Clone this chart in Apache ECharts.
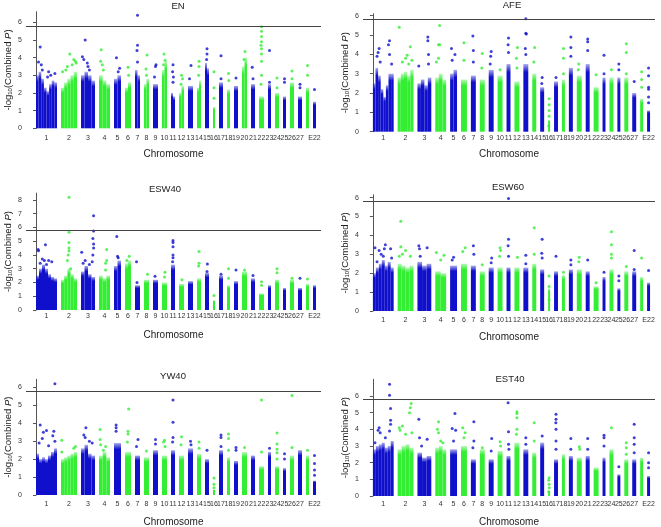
<!DOCTYPE html>
<html><head><meta charset="utf-8">
<script src="https://cdn.jsdelivr.net/npm/echarts@6/dist/echarts.min.js"></script>
<style>html,body{margin:0;padding:0;background:#fff}#c{width:661px;height:527px}</style>
</head><body><div id="c"></div>
<script>
// ---------------- DATA ----------------
const chromNames = ['1','2','3','4','5','6','7','8','9','10','11','12','13','14','15','16','17','18','19','20','21','22','23','24','25','26','27','28','E22'];
const chromLen = [21,16,14,11,7,6,5,5,5,5,4,5,5,4,4,2,4,3,4,5,4,5,3,4,3,4,4,3,3];
const chromGap = 4;
const threshold = 5.8;
const panelTitles = ['EN','AFE','ESW40','ESW60','YW40','EST40'];
const yTicks6 = [0,1,2,3,4,5,6];
const yTicks8 = [0,1,2,3,4,5,6,7,8];
const yMax = [6.6, 6.1, 8.5, 6.15, 6.45, 7.0];

// dense "skyline" heights per chromosome (left to right within the chromosome)
const EN_top = [[3.0,3.2,2.8,2.3,2.1,2.5,2.7,2.6],[2.3,2.6,2.8,3.0,3.2],[3.0,3.2,3.0,2.7],[3.0,2.7,2.5],[2.8,3.0],[2.3,2.6],[3.3,3.0],[2.5,2.8],[2.5],[3.3,3.8],[2.0,1.8],[2.0,2.4],[2.4],[2.3,2.7],[3.7,3.4],[1.2],[2.6],[2.2],[2.4],[3.5,4.0],[2.5],[1.8],[2.5],[2.0],[1.8],[2.6],[1.8],[2.3],[1.5]];
const AFE_top = [[2.5,3.3,2.9,2.2,1.8,2.4,3.0,3.0],[2.8,3.0,3.1,2.9,3.2],[2.5,2.7,2.4,2.8],[2.8,3.0,2.7],[3.0,3.2],[2.7],[2.9],[2.7],[3.2],[2.9],[3.5],[2.6],[3.5],[3.0],[2.3],[0.6],[2.6],[2.7],[3.3],[2.9],[3.5],[2.3],[2.8],[2.8],[2.8],[2.8],[2.0],[1.7],[1.1]];
const ESW40_top = [[2.5,3.0,3.3,3.0,2.6,2.4,2.3],[2.2,2.5,3.0,2.6,2.3],[2.8,3.2,2.6,2.4],[2.5,2.3,2.5],[3.2,3.6],[3.4,3.6],[1.8],[2.2],[2.2],[2.0],[3.3],[1.9],[2.1],[2.3],[2.7],[0.7],[2.5],[1.8],[2.1],[2.8],[2.3],[1.2],[1.8],[2.2],[1.6],[2.2],[1.6],[1.9],[1.8]];
const ESW60_top = [[2.0,2.3,2.5,2.7,2.4,2.6,2.3],[2.5,2.4,2.3,2.4],[2.6,2.4,2.5],[2.1,2.0],[2.4],[2.5],[2.4],[2.1],[2.3],[2.3],[2.3],[2.3],[2.3],[2.5],[2.2],[1.2],[2.1],[1.9],[2.2],[2.2],[2.1],[1.3],[1.8],[2.2],[1.2],[2.1],[2.1],[1.8],[1.5]];
const YW40_top = [[2.3,2.0,2.1,2.0,2.2,2.4,2.6],[2.0,2.1,2.2,2.3,2.4],[2.6,2.8,2.3,2.2],[2.2,2.4,2.1],[2.9],[2.4],[2.2],[2.1],[2.5],[2.2],[2.5],[2.2],[2.6],[2.3],[2.0],[0.3],[2.5],[2.1],[1.9],[2.4],[2.2],[1.6],[2.4],[1.6],[1.5],[2.2],[2.5],[2.2],[0.8]];
const EST40_top = [[2.8,3.0,3.1,3.2,2.9,3.0,3.3],[2.8,3.0,3.1,2.9],[2.6,2.3,2.4],[2.9,3.0,2.8],[2.8],[3.0],[2.2],[2.8],[2.2],[2.7],[2.4],[3.2],[2.8],[2.6],[3.2],[0.3],[2.2],[2.5],[2.4],[2.3],[2.4],[1.7],[2.3],[2.8],[1.3],[2.2],[2.2],[2.3],[1.2]];

// individual SNPs above the dense mass: [chromosome number, relative position within chromosome, -log10 P]
const EN_pts = [[1,.2,4.6],[1,.12,3.75],[1,.25,3.6],[1,.3,3.3],[1,.55,2.9],[1,.7,3.0],[1,.9,3.1],[1,.6,3.2],
[2,.55,4.2],[2,.8,3.9],[2,.9,3.8],[2,.7,3.6],[2,.3,3.3],[2,.4,3.5],[2,.1,3.2],[2,.95,3.7],
[3,.3,5.0],[3,.1,4.05],[3,.2,3.9],[3,.45,3.7],[3,.5,3.5],[3,.6,3.3],
[4,.2,4.45],[4,.15,3.8],[4,.3,3.6],[4,.4,3.3],[5,.35,4.0],[5,.8,3.4],[5,.6,3.2],[6,.5,3.45],[6,.6,3.0],
[7,.5,6.4],[7,.5,4.7],[7,.4,4.4],[7,.5,3.75],[8,.6,4.15],[8,.4,3.35],[8,.5,3.0],[9,.6,3.6],[9,.5,3.5],[9,.3,2.9],
[10,.4,4.2],[10,.6,3.85],[10,.3,3.6],[11,.5,3.6],[11,.4,3.2],[11,.6,2.9],[11,.5,2.6],[12,.5,3.0],[12,.7,2.8],[12,.4,2.5],
[13,.6,3.55],[13,.3,2.8],[14,.5,3.8],[14,.5,3.5],[14,.4,3.0],[15,.5,4.5],[15,.5,4.2],[15,.4,3.9],
[16,.5,3.2],[16,.5,2.3],[16,.5,1.7],[17,.5,4.1],[17,.5,2.8],[18,.5,3.1],[18,.6,2.7],[19,.5,2.85],
[20,.6,4.35],[20,.4,3.9],[21,.3,3.45],[21,.5,2.8],
[22,.5,5.75],[22,.5,5.5],[22,.5,5.2],[22,.5,4.9],[22,.4,4.7],[22,.5,4.5],[22,.5,4.2],[22,.5,3.8],[22,.5,3.0],[22,.4,2.5],
[23,.5,4.4],[23,.5,2.6],[24,.5,2.85],[24,.5,2.3],[25,.5,2.8],[25,.5,2.6],[26,.5,3.25],[26,.5,2.8],
[27,.5,2.5],[27,.5,2.3],[28,.5,3.55],[28,.5,3.0],[29,.5,2.2]];
const AFE_pts = [[1,.3,4.3],[1,.25,4.1],[1,.8,4.7],[1,.75,4.5],[1,.8,4.0],[1,.35,3.6],[1,.2,3.9],[1,.9,3.5],
[2,.1,5.4],[2,.8,4.4],[2,.6,3.95],[2,.5,3.8],[2,.3,3.6],[2,.9,3.7],[2,.7,3.5],
[3,.75,4.9],[3,.75,4.7],[3,.8,4.0],[3,.1,3.4],[3,.8,3.5],
[4,.4,5.5],[4,.3,4.5],[4,.4,4.5],[4,.3,3.8],[4,.1,3.6],[5,.2,4.3],[5,.7,4.0],[5,.3,3.7],
[6,.5,4.6],[6,.5,3.7],[7,.4,4.95],[7,.5,4.2],[7,.5,3.6],[8,.5,4.05],[8,.4,3.3],[9,.5,4.15],[9,.4,3.9],[9,.3,3.5],
[10,.5,3.2],[11,.5,4.85],[11,.4,4.5],[11,.5,4.1],[12,.6,4.35],[12,.4,3.8],[12,.5,3.3],
[13,.5,5.85],[13,.5,5.1],[13,.6,5.05],[13,.4,4.3],[13,.5,4.0],[14,.6,4.35],[14,.4,3.6],[15,.5,2.8],[15,.4,2.5],
[16,.5,1.7],[16,.5,1.4],[16,.5,1.1],[16,.5,0.8],[16,.3,0.3],[17,.5,2.8],[18,.5,4.3],[18,.5,3.8],[18,.5,3.0],
[19,.5,4.9],[19,.5,4.35],[19,.5,3.9],[20,.4,3.5],[20,.3,3.2],[21,.5,4.8],[21,.5,4.65],[21,.5,4.2],
[22,.5,2.95],[23,.5,3.95],[23,.5,3.0],[24,.5,3.2],[25,.5,3.5],[25,.5,3.2],[26,.5,4.55],[26,.5,4.1],[26,.5,3.0],
[27,.5,2.6],[28,.5,3.1],[28,.5,2.7],[28,.5,2.3],[29,.5,3.3],[29,.5,2.9],[29,.5,2.3],[29,.5,2.2],[29,.5,1.8],[29,.5,1.5]];
const ESW40_pts = [[1,.1,4.4],[1,.12,4.3],[1,.45,4.75],[1,.3,3.7],[1,.4,3.6],[1,.6,3.6],[1,.75,3.5],[1,.2,3.4],[1,.5,3.3],
[2,.5,8.2],[2,.5,5.65],[2,.5,4.9],[2,.5,4.5],[2,.5,4.3],[2,.45,4.0],[2,.4,3.6],[2,.6,3.0],
[3,.9,6.85],[3,.9,5.75],[3,.85,5.2],[3,.9,4.8],[3,.9,4.5],[3,.85,4.0],[3,.05,4.2],[3,.3,3.6],[3,.15,3.4],[3,.6,3.3],[3,.8,3.5],
[4,.7,4.4],[4,.7,3.6],[4,.6,3.4],[4,.6,2.9],[5,.4,5.35],[5,.5,3.9],[5,.6,3.8],[6,.7,3.9],[6,.3,3.6],
[7,.3,3.5],[7,.4,2.0],[8,.7,2.6],[9,.4,2.45],[10,.6,2.75],[10,.5,2.4],
[11,.5,5.05],[11,.5,4.9],[11,.5,4.6],[11,.5,4.0],[11,.5,3.8],[11,.4,3.5],[12,.6,2.2],
[14,.5,4.25],[14,.5,3.4],[14,.4,3.2],[15,.6,3.35],[15,.5,2.8],[16,.5,1.05],[17,.5,2.6],[18,.5,3.0],[18,.5,2.3],
[19,.5,2.9],[20,.5,2.9],[21,.5,2.5],[22,.5,2.05],[22,.5,1.8],[24,.5,3.0],[24,.5,2.7],[26,.5,2.3],[27,.5,2.3],[28,.5,2.25]];
const ESW60_pts = [[1,.1,3.35],[1,.3,3.2],[1,.6,3.5],[1,.55,3.3],[1,.85,3.3],[1,.9,2.8],[1,.4,3.0],[1,.5,2.9],[1,.2,2.6],
[2,.2,4.75],[2,.2,3.4],[2,.5,3.2],[2,.3,3.0],[2,.8,2.9],[2,.1,2.9],[3,.1,3.45],[3,.15,3.3],[3,.7,3.35],[3,.2,2.9],
[4,.1,3.1],[4,.8,2.95],[4,.5,2.7],[5,.5,2.85],[5,.3,2.7],[6,.7,3.35],[6,.3,3.15],[7,.5,3.45],[7,.6,3.0],[8,.5,2.45],
[9,.6,2.8],[9,.5,2.55],[10,.5,3.35],[10,.6,3.2],[10,.4,2.9],[11,.5,5.95],[11,.5,3.8],[11,.4,3.45],[11,.5,2.9],
[12,.6,2.85],[13,.5,2.95],[13,.5,2.5],[14,.5,4.4],[14,.5,3.0],[15,.5,3.8],[15,.4,3.05],[15,.5,2.8],
[16,.5,1.85],[16,.5,1.3],[16,.5,0.6],[17,.5,2.9],[18,.5,2.05],[19,.5,2.7],[19,.5,2.45],[20,.5,2.85],[20,.4,2.6],
[21,.5,2.7],[22,.5,1.5],[23,.5,2.05],[24,.5,4.2],[24,.5,3.5],[24,.5,3.0],[24,.5,2.8],[25,.5,1.85],[25,.5,1.6],
[26,.5,2.35],[27,.5,3.2],[27,.5,2.2],[28,.5,2.8],[29,.5,2.15]];
const YW40_pts = [[1,.2,3.9],[1,.35,3.5],[1,.5,3.6],[1,.3,3.15],[1,.6,2.75],[1,.15,2.9],[1,.85,3.55],[1,.8,3.3],[1,.9,6.2],[1,.9,3.0],
[2,.05,3.05],[2,.05,2.4],[2,.9,2.7],[2,.8,2.6],[3,.35,3.75],[3,.2,3.35],[3,.3,3.2],[3,.6,3.0],[3,.8,2.9],
[4,.1,3.65],[4,.1,3.1],[4,.15,2.8],[4,.6,2.7],[4,.4,2.5],[5,.3,3.9],[5,.3,3.75],[5,.3,3.55],
[6,.6,4.8],[6,.5,3.55],[6,.5,3.4],[6,.4,2.95],[7,.6,3.1],[7,.3,2.7],[8,.5,2.45],[9,.5,3.1],[9,.5,2.85],
[10,.5,3.05],[10,.3,2.95],[10,.6,2.7],[11,.5,5.3],[11,.5,4.05],[11,.5,3.2],[11,.4,2.95],[12,.5,3.25],[12,.4,2.8],
[13,.5,3.0],[13,.6,2.8],[14,.5,2.95],[14,.5,2.6],[15,.5,2.5],[16,.5,0.95],[16,.5,0.6],[16,.5,0.4],
[17,.5,3.35],[17,.5,3.2],[17,.5,2.7],[18,.5,3.4],[18,.5,3.15],[18,.5,2.5],[19,.5,2.65],[19,.5,2.5],[20,.5,2.65],
[22,.5,5.3],[22,.5,2.4],[23,.5,2.6],[24,.5,3.45],[24,.5,2.85],[24,.5,2.55],[24,.5,2.35],[24,.5,2.0],
[25,.5,2.3],[25,.5,2.0],[26,.5,5.55],[26,.5,2.65],[28,.5,2.5],[29,.5,2.2],[29,.5,1.75],[29,.5,1.4],[29,.5,1.1]];
const EST40_pts = [[1,.8,6.7],[1,.8,6.05],[1,.85,5.25],[1,.85,4.55],[1,.85,4.3],[1,.8,3.9],[1,.3,4.1],[1,.25,3.95],[1,.35,3.8],[1,.6,3.5],[1,.1,3.2],
[2,.85,5.55],[2,.8,5.3],[2,.75,5.0],[2,.1,4.1],[2,.15,3.95],[2,.3,4.2],[2,.5,3.7],[2,.9,3.8],
[3,.1,4.6],[3,.15,3.5],[3,.7,3.4],[3,.3,3.0],[4,.3,4.45],[4,.2,4.0],[4,.3,3.8],[4,.5,3.3],[4,.7,3.2],
[5,.7,4.95],[5,.3,4.05],[5,.8,3.95],[5,.5,3.3],[6,.3,4.1],[6,.7,3.8],[6,.5,3.5],[7,.6,4.45],[7,.6,3.3],[7,.4,2.9],
[8,.5,2.9],[9,.6,3.45],[9,.5,2.7],[10,.5,3.25],[10,.6,3.0],[11,.4,5.6],[11,.5,3.85],[11,.5,3.1],[11,.6,2.8],
[12,.5,5.05],[12,.5,4.95],[12,.5,4.7],[12,.5,4.0],[12,.4,3.7],[13,.5,3.5],[13,.5,3.1],[14,.5,4.4],[14,.5,3.3],[15,.5,3.6],
[16,.5,1.1],[16,.3,0.95],[16,.5,0.7],[16,.6,0.5],[16,.3,0.25],
[17,.5,4.9],[17,.5,4.6],[17,.45,4.4],[17,.5,4.0],[17,.5,3.3],[17,.5,2.8],[19,.5,3.45],[19,.5,2.8],
[20,.5,2.95],[20,.6,2.8],[21,.5,3.45],[21,.5,2.8],[23,.5,3.65],[23,.5,3.5],[23,.5,3.0],[24,.5,4.1],[25,.5,1.75],
[26,.5,3.2],[26,.5,2.9],[26,.5,2.5],[27,.5,4.3],[27,.5,3.5],[27,.5,3.1],[27,.5,2.6],[29,.5,2.6],[29,.5,2.0],[29,.5,1.7]];

const panelTops = [EN_top, AFE_top, ESW40_top, ESW60_top, YW40_top, EST40_top];
const panelPts = [EN_pts, AFE_pts, ESW40_pts, ESW60_pts, YW40_pts, EST40_pts];

// ---------------- LAYOUT / STYLE ----------------
const BLUE = '#1010cc', GREEN = '#33ee33';
const BLUE_T = 'rgba(16,16,204,0.35)', GREEN_T = 'rgba(51,238,51,0.35)';
const FONT = 'Arial, "Liberation Sans", sans-serif';
const layout = [
  {left:26,  top:11.7,  height:116.6, width:295, title:[178,6],   lblMargin:6, nameGap:21},
  {left:363, top:13.8,  height:117.9, width:292, title:[512,5],   lblMargin:3, nameGap:18},
  {left:26,  top:193.1, height:116.9, width:295, title:[165,189], lblMargin:3, nameGap:20},
  {left:363, top:194.8, height:116.2, width:292, title:[508,187], lblMargin:6, nameGap:21},
  {left:26,  top:379.3, height:115.7, width:295, title:[173,376], lblMargin:6, nameGap:22},
  {left:363, top:379.3, height:116.7, width:292, title:[510,379], lblMargin:5, nameGap:21}
];

// chromosome start positions on the x scale
const chromStart = [];
{ let s = 0; chromLen.forEach((l) => { chromStart.push(s); s += l + chromGap; }); }
const chromCenter = chromStart.map((s, i) => s + chromLen[i] / 2);
const xMin = -10, xMax = 285;

function fuzzyFill(solid, soft) {
  return {type: 'linear', x: 0, y: 0, x2: 0, y2: 1, colorStops: [
    {offset: 0, color: soft}, {offset: 0.12, color: solid}, {offset: 1, color: solid}]};
}

const grids = [], xAxes = [], yAxes = [], series = [], graphics = [];
layout.forEach((L, p) => {
  grids.push({left: L.left, top: L.top, width: L.width, height: L.height, containLabel: false, outerBoundsMode: 'none'});
  xAxes.push({
    type: 'value', gridIndex: p, min: xMin, max: xMax,
    name: 'Chromosome', nameLocation: 'middle', nameGap: L.nameGap,
    nameTextStyle: {fontSize: 10, color: '#222', fontFamily: FONT},
    axisLine: {show: false}, axisTick: {show: false}, splitLine: {show: false},
    axisLabel: {
      customValues: chromCenter, fontSize: 7, color: '#333', fontFamily: FONT, margin: L.lblMargin,
      showMinLabel: true, showMaxLabel: true, hideOverlap: false,
      formatter: (v) => { const i = chromCenter.findIndex(c => Math.abs(c - v) < 1e-6); return i >= 0 ? chromNames[i] : ''; }
    }
  });
  const ticks = yMax[p] > 8 ? yTicks8 : yTicks6;
  yAxes.push({
    type: 'value', gridIndex: p, min: 0, max: yMax[p],
    name: '{n|-log}{s|10}{n|(Combined }{i|P}{n|)}', nameLocation: 'middle', nameRotate: 90, nameGap: 13,
    nameTextStyle: {color: '#222', fontFamily: FONT, rich: {
      n: {fontSize: 9.5, fontFamily: FONT, color: '#222'},
      s: {fontSize: 6, fontFamily: FONT, color: '#222', verticalAlign: 'bottom', padding: [3, 0, 0, 0]},
      i: {fontSize: 9.5, fontFamily: FONT, color: '#222', fontStyle: 'italic'}
    }},
    axisLine: {show: true, lineStyle: {color: '#555', width: 1}},
    axisTick: {show: true, length: 3, customValues: ticks, lineStyle: {color: '#555'}},
    axisLabel: {customValues: ticks, fontSize: 7, color: '#333', fontFamily: FONT, margin: 4, showMinLabel: true, showMaxLabel: true},
    splitLine: {show: false}
  });

  // dense mass as skyline blocks
  const blocks = [];
  panelTops[p].forEach((hs, c) => {
    const w = chromLen[c] / hs.length;
    hs.forEach((h, k) => blocks.push([chromStart[c] + k * w, chromStart[c] + (k + 1) * w, h, c % 2]));
  });
  series.push({
    type: 'custom', xAxisIndex: p, yAxisIndex: p, data: blocks, silent: true,
    encode: {x: [0, 1], y: 2},
    renderItem: (params, api) => {
      const a = api.coord([api.value(0), 0]);
      const b = api.coord([api.value(1), api.value(2)]);
      const g = api.value(3);
      return {type: 'rect', shape: {x: a[0], y: b[1], width: Math.max(b[0] - a[0], 1), height: a[1] - b[1]},
        style: {fill: fuzzyFill(g ? GREEN : BLUE, g ? GREEN_T : BLUE_T)}};
    }
  });
  // individual SNPs
  const pts = panelPts[p].map(([c, f, v]) => [chromStart[c - 1] + f * chromLen[c - 1], v, (c - 1) % 2]);
  series.push({
    type: 'scatter', xAxisIndex: p, yAxisIndex: p, data: pts, symbol: 'circle', symbolSize: 3, silent: true,
    itemStyle: {color: (pr) => pr.data[2] ? GREEN : BLUE},
    markLine: {silent: true, symbol: 'none', label: {show: false}, animation: false,
      lineStyle: {color: '#444', width: 1, type: 'solid'}, data: [{yAxis: threshold}]}
  });
  graphics.push({type: 'text', x: L.title[0], y: L.title[1],
    style: {text: panelTitles[p], fill: '#222', fontSize: 9.5, fontFamily: FONT, align: 'center', verticalAlign: 'middle'}});
});

const chart = echarts.init(document.getElementById('c'), null, {renderer: 'canvas'});
chart.setOption({
  animation: false, backgroundColor: '#fff',
  grid: grids, xAxis: xAxes, yAxis: yAxes, series: series, graphic: graphics
});
</script></body></html>
